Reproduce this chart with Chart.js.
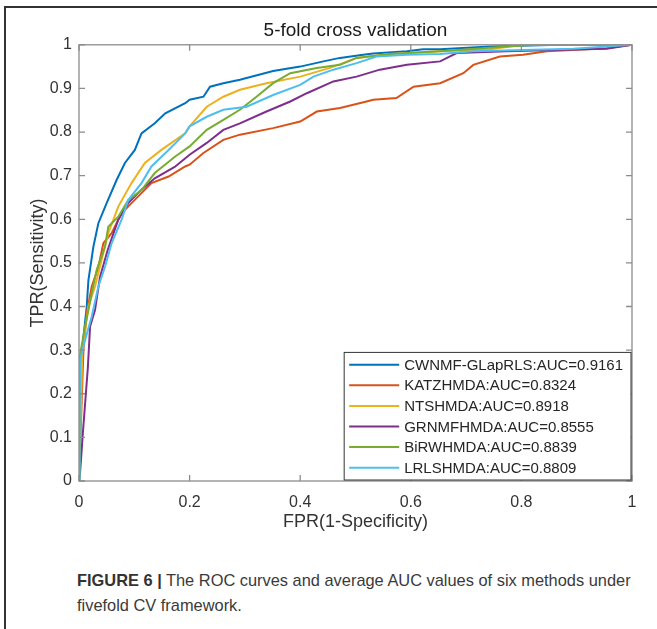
<!DOCTYPE html>
<html>
<head>
<meta charset="utf-8">
<script src="https://cdn.jsdelivr.net/npm/chart.js@4/dist/chart.umd.min.js"></script>
<style>
  body { margin: 0; background: #fff; }
  #wrap { position: relative; width: 657px; height: 629px; overflow: hidden; }
  #frameTop { position: absolute; left: 5px; top: 6px; width: 652px; height: 0; border-top: 2px solid #333; }
  #frameLeft { position: absolute; left: 4px; top: 6px; width: 0; height: 623px; border-left: 2px solid #333; }
  #chartBox { position: absolute; left: 0; top: 0; width: 657px; height: 540px; }
  #caption { position: absolute; left: 77px; top: 568px; width: 575px; font-family: "Liberation Sans", Arial, sans-serif;
    font-size: 16.4px; line-height: 25px; color: #3a3a3a; }
  #caption b { color: #333; }
</style>
</head>
<body>
<div id="wrap">
  <div id="frameTop"></div>
  <div id="frameLeft"></div>
  <div id="chartBox"><canvas id="rocChart" width="657" height="540"></canvas></div>
  <div id="caption"><b>FIGURE 6 |</b> The ROC curves and average AUC values of six methods under fivefold CV framework.</div>
</div>
<script>
const methodNames = [
  "CWNMF-GLapRLS:AUC=0.9161", "KATZHMDA:AUC=0.8324", "NTSHMDA:AUC=0.8918",
  "GRNMFHMDA:AUC=0.8555", "BiRWHMDA:AUC=0.8839", "LRLSHMDA:AUC=0.8809"
];
const lineColors = ["#0072BD", "#D95319", "#EDB120", "#7E2F8E", "#77AC30", "#4DBEEE"];

const cwnmfFpr = [0, 0.003, 0.008, 0.014, 0.017, 0.026, 0.035, 0.05, 0.068, 0.083, 0.101, 0.113, 0.137, 0.156, 0.192, 0.2, 0.225, 0.237, 0.261, 0.291, 0.351, 0.4, 0.442, 0.472, 0.514, 0.532, 0.593, 0.622, 0.653, 0.743, 0.87, 1];
const cwnmfTpr = [0, 0.2, 0.33, 0.4, 0.46, 0.537, 0.591, 0.637, 0.69, 0.729, 0.759, 0.797, 0.82, 0.843, 0.866, 0.874, 0.881, 0.904, 0.912, 0.92, 0.94, 0.95, 0.962, 0.97, 0.977, 0.98, 0.985, 0.99, 0.99, 0.996, 1, 1];

const katzFpr = [0, 0.004, 0.008, 0.014, 0.023, 0.035, 0.044, 0.059, 0.077, 0.095, 0.131, 0.162, 0.192, 0.2, 0.225, 0.261, 0.291, 0.351, 0.4, 0.43, 0.472, 0.52, 0.532, 0.574, 0.605, 0.653, 0.695, 0.713, 0.761, 0.803, 0.846, 0.954, 1];
const katzTpr = [0, 0.15, 0.3, 0.385, 0.446, 0.49, 0.545, 0.568, 0.614, 0.637, 0.683, 0.698, 0.721, 0.725, 0.752, 0.782, 0.794, 0.809, 0.824, 0.847, 0.855, 0.87, 0.874, 0.878, 0.904, 0.912, 0.935, 0.954, 0.973, 0.977, 0.985, 0.992, 1];

const ntshFpr = [0, 0.002, 0.004, 0.006, 0.017, 0.029, 0.041, 0.053, 0.071, 0.095, 0.119, 0.149, 0.192, 0.2, 0.231, 0.261, 0.291, 0.339, 0.4, 0.454, 0.502, 0.562, 0.653, 0.743, 0.803, 1];
const ntshTpr = [0, 0.1, 0.19, 0.3, 0.4, 0.446, 0.507, 0.568, 0.629, 0.683, 0.729, 0.759, 0.797, 0.813, 0.858, 0.881, 0.897, 0.912, 0.927, 0.947, 0.97, 0.979, 0.985, 0.99, 1, 1];

const grnmfFpr = [0, 0.002, 0.007, 0.016, 0.02, 0.029, 0.038, 0.052, 0.071, 0.089, 0.113, 0.137, 0.173, 0.2, 0.231, 0.261, 0.291, 0.339, 0.382, 0.412, 0.46, 0.502, 0.544, 0.593, 0.653, 0.683, 0.773, 0.894, 0.954, 1];
const grnmfTpr = [0, 0.02, 0.11, 0.26, 0.354, 0.392, 0.468, 0.53, 0.599, 0.637, 0.668, 0.694, 0.72, 0.748, 0.775, 0.805, 0.82, 0.847, 0.87, 0.889, 0.916, 0.927, 0.943, 0.954, 0.962, 0.981, 0.985, 0.989, 0.991, 1];

const birwhFpr = [0, 0.001, 0.002, 0.011, 0.023, 0.032, 0.047, 0.053, 0.071, 0.089, 0.113, 0.137, 0.174, 0.2, 0.231, 0.261, 0.291, 0.321, 0.351, 0.382, 0.43, 0.472, 0.502, 0.562, 0.653, 0.82, 1];
const birwhTpr = [0, 0.15, 0.29, 0.354, 0.43, 0.484, 0.537, 0.583, 0.606, 0.644, 0.667, 0.706, 0.744, 0.767, 0.805, 0.828, 0.851, 0.881, 0.912, 0.935, 0.947, 0.954, 0.97, 0.979, 0.985, 1, 1];

const lrlshFpr = [0, 0.001, 0.002, 0.011, 0.023, 0.035, 0.047, 0.059, 0.077, 0.089, 0.113, 0.131, 0.162, 0.192, 0.2, 0.231, 0.261, 0.303, 0.351, 0.4, 0.424, 0.46, 0.502, 0.538, 0.593, 0.653, 0.713, 0.894, 1];
const lrlshTpr = [0, 0.15, 0.278, 0.323, 0.377, 0.446, 0.491, 0.545, 0.599, 0.644, 0.683, 0.721, 0.759, 0.797, 0.813, 0.835, 0.851, 0.858, 0.885, 0.908, 0.927, 0.943, 0.958, 0.973, 0.977, 0.979, 0.985, 0.991, 1];

const xTickLabels = ["0", "0.2", "0.4", "0.6", "0.8", "1"];
const yTickLabels = ["0", "0.1", "0.2", "0.3", "0.4", "0.5", "0.6", "0.7", "0.8", "0.9", "1"];

const curves = [
  [cwnmfFpr, cwnmfTpr], [katzFpr, katzTpr], [ntshFpr, ntshTpr],
  [grnmfFpr, grnmfTpr], [birwhFpr, birwhTpr], [lrlshFpr, lrlshTpr]
];

const FONT = "'Liberation Sans', Arial, sans-serif";

// box around the axes with inward ticks on all four sides, like matlab
const matlabBox = {
  id: "matlabBox",
  afterDatasetsDraw(chart) {
    const { ctx, chartArea: a, scales } = chart;
    ctx.save();
    ctx.strokeStyle = "#8c8c8c";
    ctx.lineWidth = 1.3;
    ctx.strokeRect(a.left, a.top, a.right - a.left, a.bottom - a.top);
    const tl = 6;
    ctx.beginPath();
    scales.x.ticks.forEach(t => {
      const px = scales.x.getPixelForValue(t.value);
      ctx.moveTo(px, a.bottom); ctx.lineTo(px, a.bottom - tl);
      ctx.moveTo(px, a.top); ctx.lineTo(px, a.top + tl);
    });
    scales.y.ticks.forEach(t => {
      const py = scales.y.getPixelForValue(t.value);
      ctx.moveTo(a.left, py); ctx.lineTo(a.left + tl, py);
      ctx.moveTo(a.right, py); ctx.lineTo(a.right - tl, py);
    });
    ctx.stroke();
    ctx.restore();
  }
};

// legend sitting in the bottom right corner of the axes
const insideLegend = {
  id: "insideLegend",
  afterDraw(chart) {
    const { ctx, chartArea: a } = chart;
    const sets = chart.data.datasets;
    ctx.save();
    ctx.font = "15px " + FONT;
    const textW = Math.max(...sets.map(d => ctx.measureText(d.label).width));
    const rowH = 20.6;
    const w = 5 + 50 + 5 + textW + 8;
    const h = rowH * sets.length + 4;
    const x0 = a.right - 1 - w;
    const y0 = a.bottom - 1 - h;
    ctx.fillStyle = "#fff";
    ctx.fillRect(x0, y0, w, h);
    ctx.strokeStyle = "#333";
    ctx.lineWidth = 1;
    ctx.strokeRect(x0, y0, w, h);
    ctx.textBaseline = "middle";
    sets.forEach((d, i) => {
      const cy = y0 + 2 + rowH * (i + 0.5);
      ctx.strokeStyle = d.borderColor;
      ctx.lineWidth = 2;
      ctx.beginPath();
      ctx.moveTo(x0 + 5, cy); ctx.lineTo(x0 + 55, cy);
      ctx.stroke();
      ctx.fillStyle = "#262626";
      ctx.fillText(d.label, x0 + 60, cy + 1);
    });
    ctx.restore();
  }
};

new Chart(document.getElementById("rocChart").getContext("2d"), {
  type: "line",
  data: {
    datasets: curves.map((c, i) => ({
      label: methodNames[i],
      data: c[0].map((fx, j) => ({ x: fx, y: c[1][j] })),
      borderColor: lineColors[i],
      borderWidth: 2,
      pointRadius: 0,
      tension: 0,
      fill: false,
      order: curves.length - i
    }))
  },
  options: {
    responsive: false,
    animation: false,
    layout: { padding: { left: 0, right: 25, top: 0, bottom: 0 } },
    plugins: {
      legend: { display: false },
      tooltip: { enabled: false },
      title: {
        display: true,
        text: "5-fold cross validation",
        fullSize: false,
        color: "#1a1a1a",
        font: { size: 19, weight: "normal", family: FONT },
        padding: { top: 19, bottom: 3 }
      }
    },
    scales: {
      x: {
        type: "linear",
        min: 0,
        max: 1,
        afterFit: s => { s.height = 59; },
        grid: { display: false, drawTicks: false },
        border: { display: false },
        ticks: {
          stepSize: 0.2,
          padding: 12,
          color: "#333",
          font: { size: 16, family: FONT },
          callback: (v, i) => xTickLabels[i]
        },
        title: {
          display: true,
          text: "FPR(1-Specificity)",
          color: "#333",
          font: { size: 18, family: FONT },
          padding: { top: 0, bottom: 7 }
        }
      },
      y: {
        type: "linear",
        min: 0,
        max: 1,
        afterFit: s => { s.width = 79; },
        grid: { display: false, drawTicks: false },
        border: { display: false },
        ticks: {
          stepSize: 0.1,
          padding: 7,
          color: "#333",
          font: { size: 16, family: FONT },
          callback: (v, i) => yTickLabels[i]
        },
        title: {
          display: true,
          text: "TPR(Sensitivity)",
          color: "#333",
          font: { size: 18, family: FONT },
          padding: { top: 27, bottom: 0 }
        }
      }
    }
  },
  plugins: [matlabBox, insideLegend]
});
</script>
</body>
</html>
